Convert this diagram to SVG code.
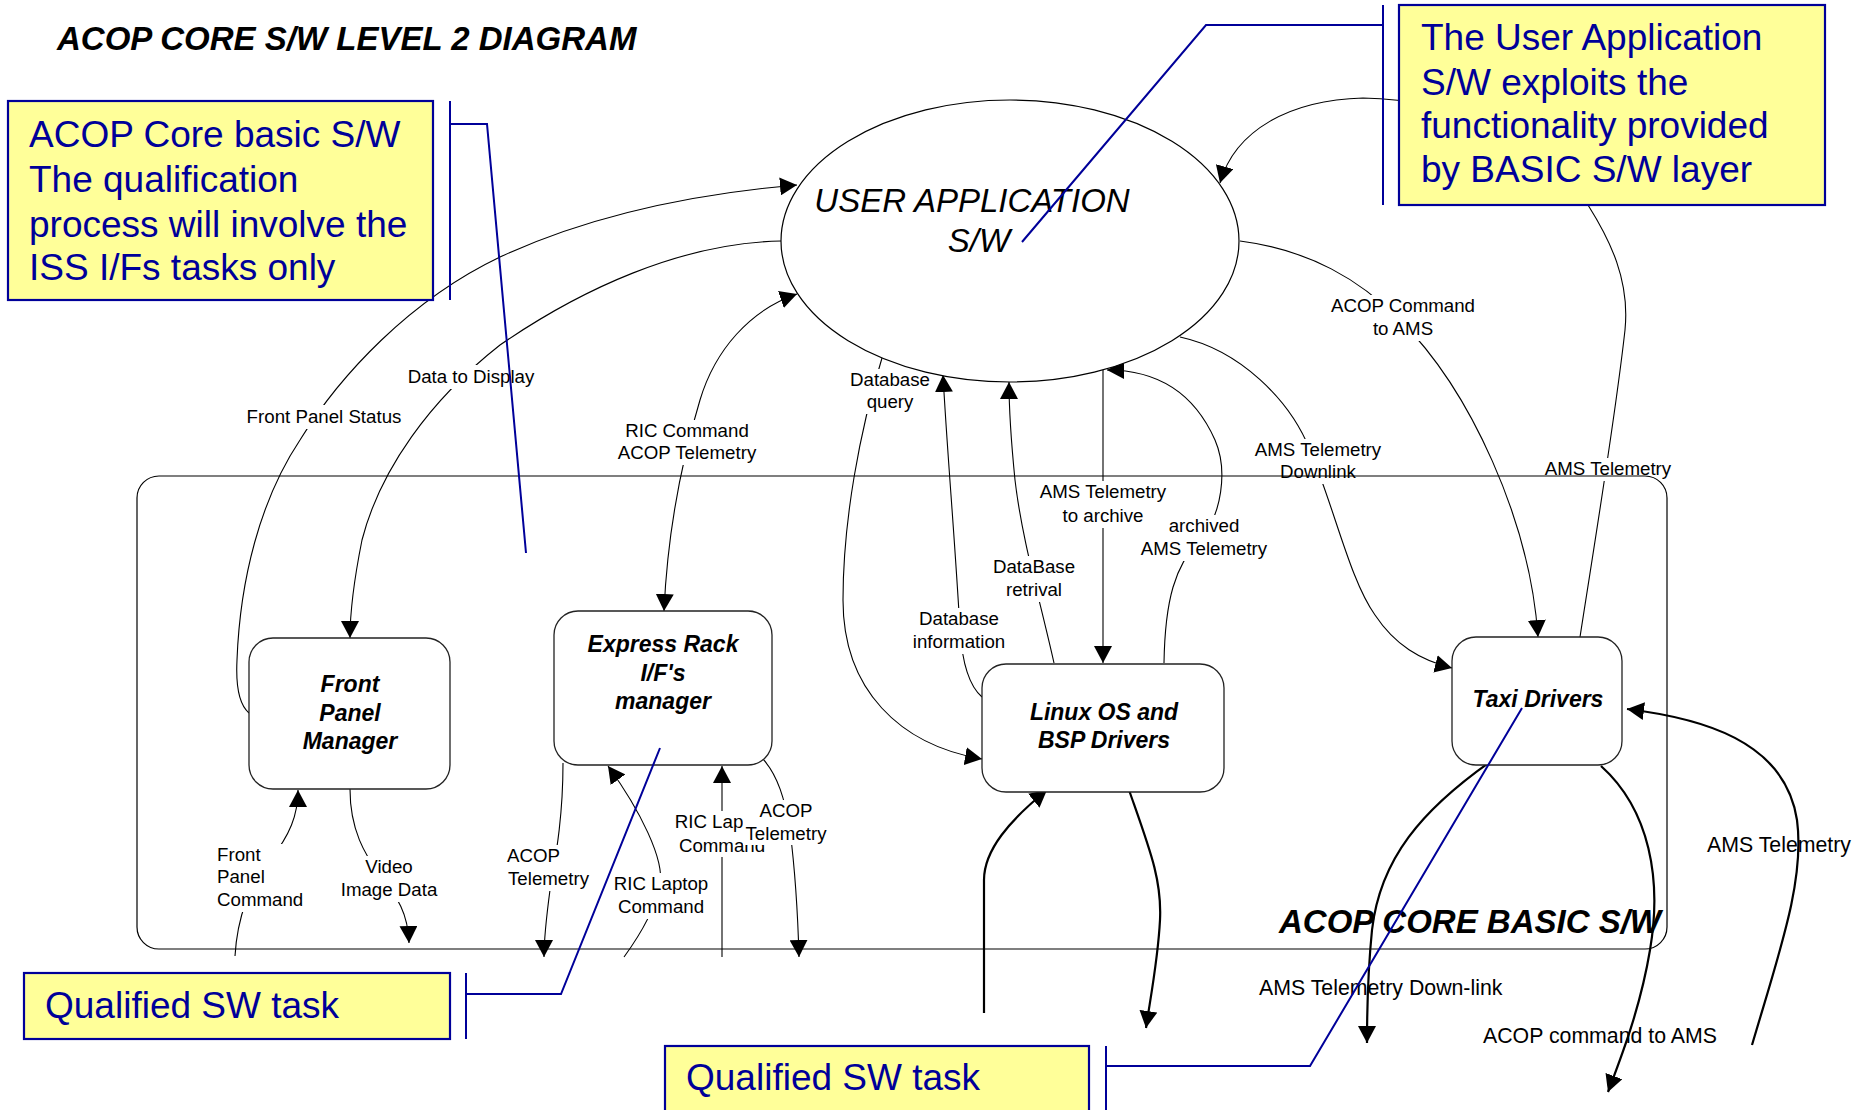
<svg xmlns="http://www.w3.org/2000/svg" width="1870" height="1110" viewBox="0 0 1870 1110">
<style>
.conn{fill:none;stroke:#000;stroke-width:1.1}
.thick{fill:none;stroke:#000;stroke-width:2.2}
.lbl{font-family:"Liberation Sans",Arial,sans-serif;font-size:18.7px;fill:#000}
.mid{text-anchor:middle}
.lbg{fill:#fff}
.node{fill:#fff;stroke:#222;stroke-width:1.3}
.ntext{font-family:"Liberation Sans",Arial,sans-serif;font-size:23px;font-weight:bold;font-style:italic;text-anchor:middle;fill:#000}
.call{fill:#FFFF99;stroke:#000099;stroke-width:2.2}
.ctext{font-family:"Liberation Sans",Arial,sans-serif;font-size:37px;fill:#000099}
.blue{fill:none;stroke:#000099;stroke-width:2}
.big{font-family:"Liberation Sans",Arial,sans-serif;font-size:33px;font-weight:bold;font-style:italic;fill:#000}
.free{font-family:"Liberation Sans",Arial,sans-serif;font-size:21.3px;fill:#000}
</style>
<defs>
<marker id="arr" viewBox="0 0 17 18" markerWidth="17" markerHeight="18" refX="17" refY="9" orient="auto-start-reverse" markerUnits="userSpaceOnUse">
<path d="M0,0 L17,9 L0,18 z" fill="#000"/>
</marker>
</defs>
<rect width="1870" height="1110" fill="#fff"/>

<text id="title" class="big" x="57" y="50">ACOP CORE S/W LEVEL 2 DIAGRAM</text>

<g id="connectors">
<path class="conn" marker-end="url(#arr)" d="M249,713 C237,703 236,680 237,660 C240,580 260,500 300,440 C340,375 410,300 500,257 C580,220 680,195 797,185"/>
<path class="conn" marker-end="url(#arr)" d="M781,241 C680,243 580,290 500,345 C430,400 380,470 362,540 C354,580 350,610 350,638"/>
<path class="conn" marker-start="url(#arr)" marker-end="url(#arr)" d="M797,294 C750,310 715,350 700,400 C685,450 668,520 664,611"/>
<path class="conn" marker-end="url(#arr)" d="M882,358 C860,430 843,520 843,600 C843,690 900,745 982,759"/>
<path class="conn" marker-end="url(#arr)" d="M982,697 C968,685 962,660 960,630 C955,540 947,450 943,375"/>
<path class="conn" marker-end="url(#arr)" d="M1054,663 C1040,600 1022,540 1015,480 C1011,440 1009,410 1009,382"/>
<path class="conn" marker-end="url(#arr)" d="M1103,370 L1103,663"/>
<path class="conn" marker-end="url(#arr)" d="M1164,663 C1165,600 1175,565 1200,540 C1222,515 1228,470 1215,440 C1195,395 1160,370 1107,370"/>
<path class="conn" marker-end="url(#arr)" d="M1180,337 C1240,350 1290,400 1310,450 C1335,510 1350,580 1375,615 C1395,645 1420,660 1452,668"/>
<path class="conn" marker-end="url(#arr)" d="M1240,241 C1310,250 1360,280 1400,320 C1470,390 1530,520 1538,637"/>
<path class="conn" marker-end="url(#arr)" d="M1580,637 C1595,540 1615,420 1625,330 C1630,280 1610,240 1588,205 C1540,130 1450,100 1363,98 C1290,100 1235,130 1220,183"/>
<path class="conn" marker-end="url(#arr)" d="M235,956 C237,920 250,880 270,860 C290,835 298,815 298,790"/>
<path class="conn" marker-end="url(#arr)" d="M350,789 C350,830 365,855 380,875 C395,895 408,910 409,943"/>
<path class="conn" marker-end="url(#arr)" d="M563,763 C563,820 555,860 550,890 C546,920 544,940 544,957"/>
<path class="conn" marker-end="url(#arr)" d="M624,957 C640,935 655,910 660,885 C665,860 640,810 608,766"/>
<path class="conn" marker-end="url(#arr)" d="M722,957 L722,766"/>
<path class="conn" marker-end="url(#arr)" d="M762,758 C778,775 785,800 790,830 C795,870 798,920 799,957"/>
<path class="thick" marker-end="url(#arr)" d="M984,1013 L984,880 C984,850 1010,820 1047,790"/>
<path class="thick" marker-end="url(#arr)" d="M1129,790 C1150,850 1162,880 1160,920 C1158,960 1150,1000 1146,1028"/>
<path class="thick" marker-end="url(#arr)" d="M1497,757 C1420,810 1380,860 1372,930 C1368,970 1367,1010 1367,1043"/>
<path class="thick" marker-end="url(#arr)" d="M1601,766 C1650,810 1662,880 1650,950 C1640,1010 1620,1060 1608,1092"/>
<path class="thick" marker-end="url(#arr)" d="M1752,1045 C1780,950 1805,880 1797,820 C1785,740 1700,718 1627,709"/>

<g id="labels">
<rect class="lbg" x="246" y="405" width="157" height="24"/>
<text class="lbl mid" x="324" y="423">Front Panel Status</text>
<rect class="lbg" x="406" y="365" width="130" height="24"/>
<text class="lbl mid" x="471" y="383">Data to Display</text>
<rect class="lbg" x="615" y="420" width="144" height="45"/>
<text class="lbl mid" x="687" y="437">RIC Command</text>
<text class="lbl mid" x="687" y="459">ACOP Telemetry</text>
<rect class="lbg" x="849" y="369" width="82" height="45"/>
<text class="lbl mid" x="890" y="386">Database</text>
<text class="lbl mid" x="890" y="408">query</text>
<rect class="lbg" x="912" y="608" width="95" height="46"/>
<text class="lbl mid" x="959" y="625">Database</text>
<text class="lbl mid" x="959" y="648">information</text>
<rect class="lbg" x="992" y="556" width="84" height="46"/>
<text class="lbl mid" x="1034" y="573">DataBase</text>
<text class="lbl mid" x="1034" y="596">retrival</text>
<rect class="lbg" x="1037" y="481" width="131" height="47"/>
<text class="lbl mid" x="1103" y="498">AMS Telemetry</text>
<text class="lbl mid" x="1103" y="522">to archive</text>
<rect class="lbg" x="1166" y="515" width="76" height="23"/>
<rect class="lbg" x="1138" y="538" width="132" height="23"/>
<text class="lbl mid" x="1204" y="532">archived</text>
<text class="lbl mid" x="1204" y="555">AMS Telemetry</text>
<rect class="lbg" x="1253" y="439" width="131" height="45"/>
<text class="lbl mid" x="1318" y="456">AMS Telemetry</text>
<text class="lbl mid" x="1318" y="478">Downlink</text>
<rect class="lbg" x="1330" y="295" width="146" height="46"/>
<text class="lbl mid" x="1403" y="312">ACOP Command</text>
<text class="lbl mid" x="1403" y="335">to AMS</text>
<rect class="lbg" x="1543" y="458" width="131" height="23"/>
<text class="lbl mid" x="1608" y="475">AMS Telemetry</text>
<rect class="lbg" x="216" y="844" width="88" height="68"/>
<text class="lbl" x="217" y="861">Front</text>
<text class="lbl" x="217" y="883">Panel</text>
<text class="lbl" x="217" y="906">Command</text>
<rect class="lbg" x="339" y="856" width="99" height="46"/>
<text class="lbl mid" x="389" y="873">Video</text>
<text class="lbl mid" x="389" y="896">Image Data</text>
<rect class="lbg" x="506" y="845" width="86" height="46"/>
<text class="lbl" x="507" y="862">ACOP</text>
<text class="lbl" x="508" y="885">Telemetry</text>
<rect class="lbg" x="613" y="873" width="97" height="46"/>
<text class="lbl mid" x="661" y="890">RIC Laptop</text>
<text class="lbl mid" x="661" y="913">Command</text>
<rect class="lbg" x="673" y="811" width="98" height="46"/>
<text class="lbl mid" x="722" y="828">RIC Laptop</text>
<text class="lbl mid" x="722" y="852">Command</text>
<rect class="lbg" x="743" y="800" width="86" height="45"/>
<text class="lbl mid" x="786" y="817">ACOP</text>
<text class="lbl mid" x="786" y="840">Telemetry</text>
</g>
</g>

<g id="free-labels">
<text class="free" x="1259" y="995">AMS Telemetry Down-link</text>
<text class="free" x="1483" y="1043">ACOP command to AMS</text>
<text class="free" x="1707" y="852">AMS Telemetry</text>
</g>

<g id="user-application">
<ellipse cx="1010" cy="241" rx="229" ry="141" fill="#fff" stroke="#000" stroke-width="1.2"/>
<text font-family="Liberation Sans, Arial, sans-serif" font-size="33" font-style="italic" text-anchor="middle" x="972" y="212">USER APPLICATION</text>
<text font-family="Liberation Sans, Arial, sans-serif" font-size="33" font-style="italic" text-anchor="middle" x="979" y="252">S/W</text>
</g>

<g id="front-panel-manager">
<rect class="node" x="249" y="638" width="201" height="151" rx="24"/>
<text class="ntext" x="350" y="692">Front</text>
<text class="ntext" x="350" y="721">Panel</text>
<text class="ntext" x="350" y="749">Manager</text>
</g>

<g id="express-rack-manager">
<rect class="node" x="554" y="611" width="218" height="154" rx="24"/>
<text class="ntext" x="663" y="652">Express Rack</text>
<text class="ntext" x="663" y="681">I/F's</text>
<text class="ntext" x="663" y="709">manager</text>
</g>

<g id="linux-bsp">
<rect class="node" x="982" y="664" width="242" height="128" rx="24"/>
<text class="ntext" x="1104" y="720">Linux OS and</text>
<text class="ntext" x="1104" y="748">BSP Drivers</text>
</g>

<g id="taxi-drivers">
<rect class="node" x="1452" y="637" width="170" height="128" rx="24"/>
<text class="ntext" x="1538" y="707">Taxi Drivers</text>
</g>

<g id="acop-core-basic">
<rect x="137" y="476" width="1530" height="473" rx="22" fill="none" stroke="#000" stroke-width="1.2"/>
<text class="big" x="1661" y="933" text-anchor="end">ACOP CORE BASIC S/W</text>
</g>

<g id="callout-core-basic">
<rect class="call" x="8" y="101" width="425" height="199"/>
<text class="ctext" x="29" y="147">ACOP Core basic S/W</text>
<text class="ctext" x="29" y="192">The qualification</text>
<text class="ctext" x="29" y="237">process will involve the</text>
<text class="ctext" x="29" y="280">ISS I/Fs tasks only</text>
<path class="blue" d="M450,101 L450,300 M450,124 L487,124 L526,553"/>
</g>

<g id="callout-user-app">
<rect class="call" x="1399" y="5" width="426" height="200"/>
<text class="ctext" x="1421" y="50">The User Application</text>
<text class="ctext" x="1421" y="95">S/W exploits the</text>
<text class="ctext" x="1421" y="138">functionality provided</text>
<text class="ctext" x="1421" y="182">by BASIC S/W layer</text>
<path class="blue" d="M1383,5 L1383,205 M1383,25 L1206,25 L1022,242"/>
</g>

<g id="callout-qualified-1">
<rect class="call" x="24" y="973" width="426" height="66"/>
<text class="ctext" x="45" y="1018">Qualified SW task</text>
<path class="blue" d="M466,973 L466,1039 M466,994 L561,994 L660,748"/>
</g>

<g id="callout-qualified-2">
<rect class="call" x="665" y="1046" width="424" height="70"/>
<text class="ctext" x="686" y="1090">Qualified SW task</text>
<path class="blue" d="M1106,1046 L1106,1110 M1106,1066 L1310,1066 L1522,708"/>
</g>
</svg>
